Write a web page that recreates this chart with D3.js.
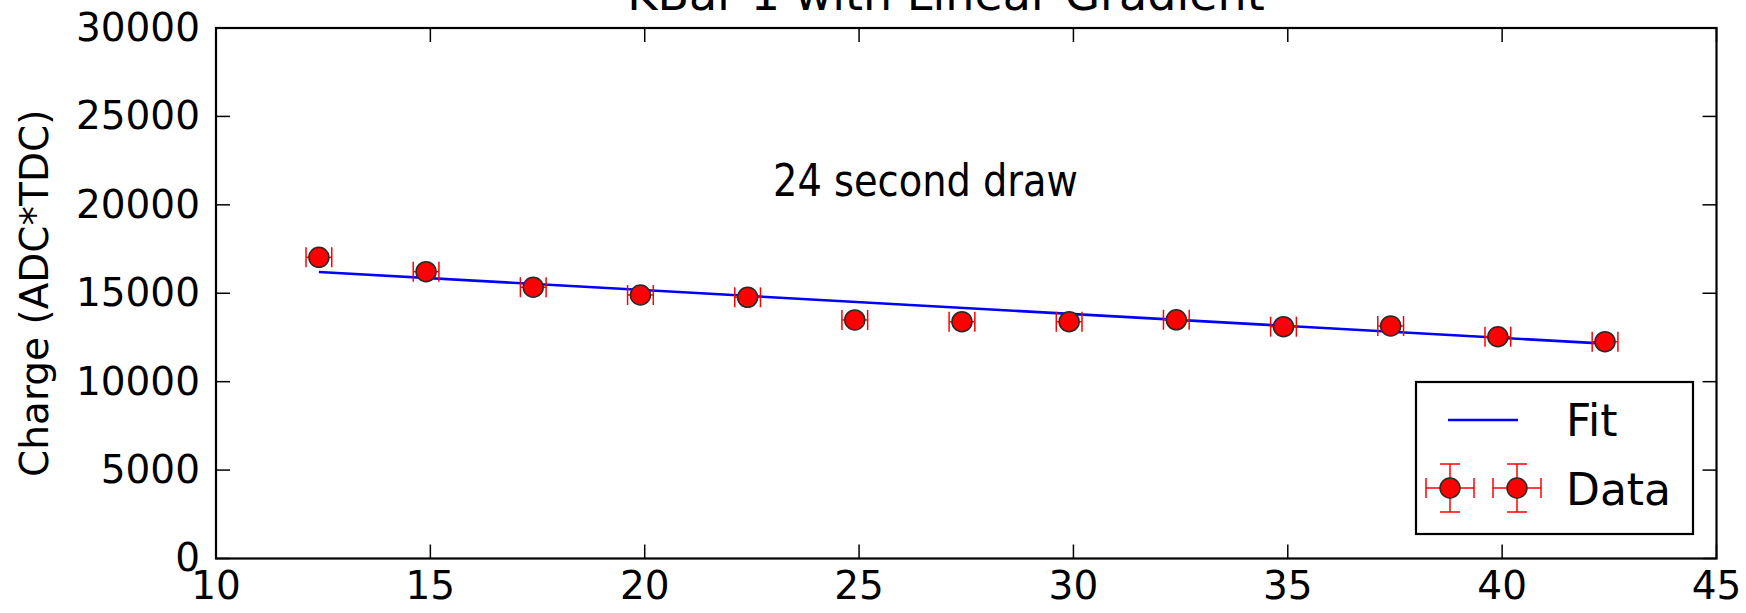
<!DOCTYPE html>
<html>
<head>
<meta charset="utf-8">
<script src="https://cdn.jsdelivr.net/npm/d3@7/dist/d3.min.js"></script>
<style>
  html, body { margin: 0; padding: 0; background: #fff; }
  svg { display: block; }
  text { font-family: "DejaVu Sans", sans-serif; fill: #000; }
</style>
</head>
<body>
<svg id="chart" width="1746" height="613"></svg>
<script>
// Bar position along the bar and measured charge
const positions = [12.4, 14.9, 17.4, 19.9, 22.4, 24.9, 27.4, 29.9, 32.4, 34.9, 37.4, 39.9, 42.4];
const charges   = [17030, 16220, 15340, 14900, 14770, 13490, 13390, 13390, 13500, 13110, 13150, 12540, 12260];
const posErr    = [0.3, 0.3, 0.3, 0.3, 0.3, 0.3, 0.3, 0.3, 0.3, 0.3, 0.3, 0.3, 0.3];
const chargeErr = [150, 150, 150, 150, 150, 150, 150, 150, 150, 150, 150, 150, 150];

// Linear fit endpoints
const fitX = [12.4, 42.4];
const fitY = [16200, 12150];

const xTicks = [10, 15, 20, 25, 30, 35, 40, 45];
const yTicks = [0, 5000, 10000, 15000, 20000, 25000, 30000];

const titleText = "KBar 1 with Linear Gradient";
const yLabelText = "Charge (ADC*TDC)";
const noteText = "24 second draw";
const legendLabels = ["Fit", "Data"];

const svg = d3.select("#chart");
const plotLeft = 216, plotRight = 1716.5, plotTop = 28, plotBottom = 558.5;

const x = d3.scaleLinear().domain([10, 45]).range([plotLeft, plotRight]);
const y = d3.scaleLinear().domain([0, 30000]).range([plotBottom, plotTop]);

const tickLen = 14;
const fontTick = 39;

// Ticks pointing inward on all four sides
const g = svg.append("g");
g.selectAll(".xt-b").data(xTicks).join("line")
  .attr("x1", d => x(d)).attr("x2", d => x(d))
  .attr("y1", plotBottom).attr("y2", plotBottom - tickLen)
  .attr("stroke", "#000").attr("stroke-width", 1.5);
g.selectAll(".xt-t").data(xTicks).join("line")
  .attr("x1", d => x(d)).attr("x2", d => x(d))
  .attr("y1", plotTop).attr("y2", plotTop + tickLen)
  .attr("stroke", "#000").attr("stroke-width", 1.5);
g.selectAll(".yt-l").data(yTicks).join("line")
  .attr("x1", plotLeft).attr("x2", plotLeft + tickLen)
  .attr("y1", d => y(d)).attr("y2", d => y(d))
  .attr("stroke", "#000").attr("stroke-width", 1.5);
g.selectAll(".yt-r").data(yTicks).join("line")
  .attr("x1", plotRight).attr("x2", plotRight - tickLen)
  .attr("y1", d => y(d)).attr("y2", d => y(d))
  .attr("stroke", "#000").attr("stroke-width", 1.5);

// Tick labels
g.selectAll(".xl").data(xTicks).join("text")
  .attr("x", d => x(d)).attr("y", 599)
  .attr("text-anchor", "middle")
  .attr("font-size", fontTick)
  .text(d => d);
g.selectAll(".yl").data(yTicks).join("text")
  .attr("x", plotLeft - 16).attr("y", d => y(d))
  .attr("dy", "0.33em")
  .attr("text-anchor", "end")
  .attr("font-size", fontTick)
  .text(d => d);

// Axis label
svg.append("text")
  .attr("transform", `translate(48, ${(plotTop + plotBottom) / 2}) rotate(-90)`)
  .attr("text-anchor", "middle")
  .attr("font-size", 39)
  .text(yLabelText);

// Title (runs off the top edge)
svg.append("text")
  .attr("x", 946).attr("y", 10)
  .attr("text-anchor", "middle")
  .attr("font-size", 46)
  .text(titleText);

// Annotation
svg.append("text")
  .attr("x", 773).attr("y", 196)
  .attr("font-family", "'Open Sans', sans-serif")
  .attr("font-size", 44)
  .attr("textLength", 305)
  .attr("lengthAdjust", "spacingAndGlyphs")
  .text(noteText);

// Fit line
const line = d3.line().x(d => x(d[0])).y(d => y(d[1]));
svg.append("path")
  .datum(fitX.map((v, i) => [v, fitY[i]]))
  .attr("d", line)
  .attr("fill", "none")
  .attr("stroke", "#0000ff")
  .attr("stroke-width", 2.6);

// Error bars with caps
const capHalf = 10;
const pts = positions.map((p, i) => ({ x: p, y: charges[i], ex: posErr[i], ey: chargeErr[i] }));
const eb = svg.append("g").attr("stroke", "#ff0000").attr("stroke-width", 1.5);
pts.forEach(d => {
  const cx = x(d.x), cy = y(d.y);
  const x0 = x(d.x - d.ex), x1 = x(d.x + d.ex);
  const y0 = y(d.y - d.ey), y1 = y(d.y + d.ey);
  eb.append("line").attr("x1", x0).attr("x2", x1).attr("y1", cy).attr("y2", cy);
  eb.append("line").attr("x1", x0).attr("x2", x0).attr("y1", cy - capHalf).attr("y2", cy + capHalf);
  eb.append("line").attr("x1", x1).attr("x2", x1).attr("y1", cy - capHalf).attr("y2", cy + capHalf);
  eb.append("line").attr("x1", cx).attr("x2", cx).attr("y1", y0).attr("y2", y1);
  eb.append("line").attr("x1", cx - capHalf).attr("x2", cx + capHalf).attr("y1", y0).attr("y2", y0);
  eb.append("line").attr("x1", cx - capHalf).attr("x2", cx + capHalf).attr("y1", y1).attr("y2", y1);
});

// Markers
svg.append("g").selectAll("circle").data(pts).join("circle")
  .attr("cx", d => x(d.x)).attr("cy", d => y(d.y))
  .attr("r", 10)
  .attr("fill", "#ff0000")
  .attr("stroke", "#2a2a2a")
  .attr("stroke-width", 1.5);

// Frame
svg.append("rect")
  .attr("x", plotLeft).attr("y", plotTop)
  .attr("width", plotRight - plotLeft).attr("height", plotBottom - plotTop)
  .attr("fill", "none").attr("stroke", "#000").attr("stroke-width", 2.2);

// Legend
const lg = svg.append("g");
lg.append("rect")
  .attr("x", 1416).attr("y", 382).attr("width", 277).attr("height", 152)
  .attr("fill", "#fff").attr("stroke", "#000").attr("stroke-width", 2.2);
lg.append("line")
  .attr("x1", 1448).attr("x2", 1518).attr("y1", 420).attr("y2", 420)
  .attr("stroke", "#0000ff").attr("stroke-width", 2.6);
lg.append("text").attr("x", 1566).attr("y", 436).attr("font-size", 44).text(legendLabels[0]);
lg.append("text").attr("x", 1566).attr("y", 505).attr("font-size", 44).text(legendLabels[1]);
[1450, 1517].forEach(cx => {
  const cy = 488, arm = 24;
  const s = lg.append("g").attr("stroke", "#ff0000").attr("stroke-width", 1.5);
  s.append("line").attr("x1", cx - arm).attr("x2", cx + arm).attr("y1", cy).attr("y2", cy);
  s.append("line").attr("x1", cx).attr("x2", cx).attr("y1", cy - arm).attr("y2", cy + arm);
  s.append("line").attr("x1", cx - arm).attr("x2", cx - arm).attr("y1", cy - capHalf).attr("y2", cy + capHalf);
  s.append("line").attr("x1", cx + arm).attr("x2", cx + arm).attr("y1", cy - capHalf).attr("y2", cy + capHalf);
  s.append("line").attr("x1", cx - capHalf).attr("x2", cx + capHalf).attr("y1", cy - arm).attr("y2", cy - arm);
  s.append("line").attr("x1", cx - capHalf).attr("x2", cx + capHalf).attr("y1", cy + arm).attr("y2", cy + arm);
  lg.append("circle").attr("cx", cx).attr("cy", cy).attr("r", 10)
    .attr("fill", "#ff0000").attr("stroke", "#2a2a2a").attr("stroke-width", 1.5);
});
</script>
</body>
</html>
